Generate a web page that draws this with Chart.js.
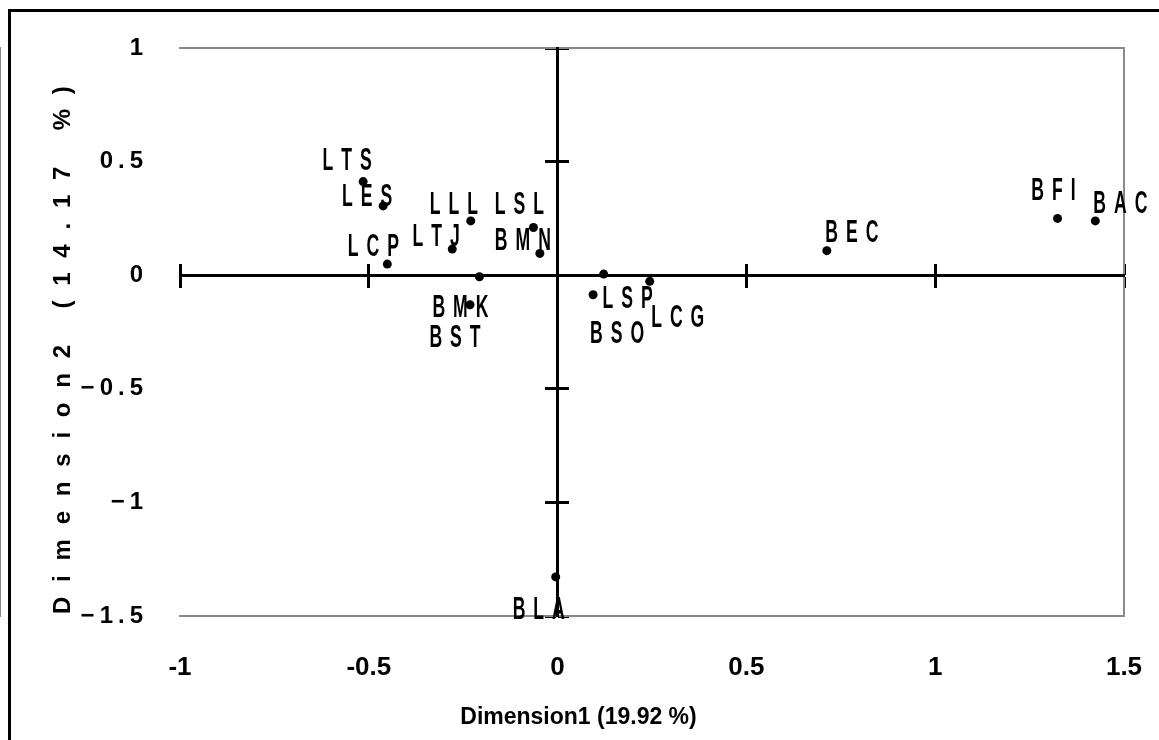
<!DOCTYPE html>
<html>
<head>
<meta charset="utf-8">
<script src="https://cdn.jsdelivr.net/npm/chart.js@4.4.1/dist/chart.umd.min.js"></script>
<style>
  html, body { margin: 0; padding: 0; background: #fff; overflow: hidden; }
  #wrap { position: relative; width: 1159px; height: 740px; overflow: hidden; }
  #frame { position: absolute; left: 8px; top: 9px; width: 1250px; height: 800px;
           border-left: 3px solid #000; border-top: 3px solid #000; }
  #c { position: absolute; left: 0; top: 0; }
</style>
</head>
<body>
<div id="wrap">
  <div id="frame"></div>
  <canvas id="c" width="1159" height="740"></canvas>
</div>
<script>
// Site codes and their coordinates on the first two dimensions
const codes = ['LTS', 'LES', 'LLL', 'LSL', 'LTJ', 'BMN', 'LCP', 'BMK', 'BST', 'LSP', 'LCG', 'BSO', 'BEC', 'BFI', 'BAC', 'BLA'];
const dim1  = [-0.515, -0.462, -0.230, -0.064, -0.279, -0.047, -0.451, -0.207, -0.232, 0.122, 0.244, 0.094, 0.713, 1.324, 1.424, -0.005];
const dim2  = [ 0.412,  0.305,  0.239,  0.210,  0.115,  0.096,  0.049, -0.007, -0.130, 0.005, -0.027, -0.086, 0.108, 0.250, 0.239, -1.328];

// Tick labels of both axes
const xTickValues = [-1, -0.5, 0, 0.5, 1, 1.5];
const xTickLabels = ['-1', '-0.5', '0', '0.5', '1', '1.5'];
const yTickValues = [-1.5, -1, -0.5, 0, 0.5, 1];
const yTickLabels = ['\u22121.5', '\u22121', '\u22120.5', '0', '0.5', '1'];

// Axis titles
const xTitle = 'Dimension1 (19.92 %)';
const yTitle = 'Dimension2 (14.17 %) ';

// Where each code is written, relative to its point (pixels)
const labelOffsets = [
  [-16, -20], [-16, -9], [-17, -16], [-14, -22], [-16, -12], [-17, -12], [-14, -17],
  [-19, 31], [-15, 33], [24, 25], [28, 37], [24, 39], [25, -17], [-4, -27], [25, -17], [-17, 33]
];

const FONT = '"Liberation Sans", Arial, sans-serif';
const GRAY = '#8a8a8a';
const X_SPACING = '0px';
const Y_SPACING = '5px';
const Y_TITLE_SPACING = '14.8px';
const SQUEEZE = 0.55;
const GAP = 8;

const label = (values, labels) => v => {
  const i = values.findIndex(t => Math.abs(t - v) < 1e-9);
  return i >= 0 ? labels[i] : '';
};

// Point codes, drawn condensed with a wide letter pitch
const codeLabels = {
  id: 'codeLabels',
  beforeDraw(chart) { chart.ctx.letterSpacing = X_SPACING; },
  afterDatasetsDraw(chart) {
    const ctx = chart.ctx;
    const meta = chart.getDatasetMeta(0);
    ctx.save();
    ctx.letterSpacing = '0px';
    ctx.font = 'bold 32px ' + FONT;
    ctx.fillStyle = '#000';
    ctx.textBaseline = 'middle';
    ctx.textAlign = 'left';
    meta.data.forEach((pt, i) => {
      const chars = [...codes[i]];
      const widths = chars.map(ch => ctx.measureText(ch).width * SQUEEZE);
      const total = widths.reduce((a, b) => a + b, 0) + GAP * (chars.length - 1);
      let x = pt.x + labelOffsets[i][0] - total / 2;
      const y = pt.y + labelOffsets[i][1];
      chars.forEach((ch, k) => {
        ctx.save();
        ctx.translate(x, y);
        ctx.scale(SQUEEZE, 1);
        ctx.fillText(ch, 0, 0);
        ctx.restore();
        x += widths[k] + GAP;
      });
    });
    ctx.restore();
    // the vertical axis labels and title are drawn after this point
    ctx.letterSpacing = Y_SPACING;
  },
  afterDraw(chart) { chart.ctx.letterSpacing = '0px'; }
};

// Vertical axis title gets its own wider spacing
const yTitleSpacing = {
  id: 'yTitleSpacing',
  afterLayout(chart) {
    const s = chart.scales.y;
    if (s._wrappedTitle) return;
    const orig = s.drawTitle.bind(s);
    s.drawTitle = function () {
      const ctx = chart.ctx;
      const prev = ctx.letterSpacing;
      ctx.letterSpacing = Y_TITLE_SPACING;
      orig();
      ctx.letterSpacing = prev;
    };
    s._wrappedTitle = true;
  }
};

const centerAxis = (axis, posKey, min, max, len, showBorder) => ({
  type: 'linear', axis, position: { [posKey]: 0 }, min, max,
  ticks: { display: false, stepSize: 0.5 },
  grid: { drawOnChartArea: false, drawTicks: true, tickLength: len, tickColor: '#000', tickWidth: 3 },
  border: { display: showBorder, color: '#000', width: 3 }
});

new Chart(document.getElementById('c'), {
  type: 'scatter',
  data: {
    datasets: [{
      data: dim1.map((x, i) => ({ x, y: dim2[i] })),
      backgroundColor: '#000',
      borderWidth: 0,
      pointRadius: 4.5,
      pointHoverRadius: 4.5,
      xAxisID: 'x',
      yAxisID: 'y'
    }]
  },
  options: {
    responsive: false,
    animation: false,
    events: [],
    layout: { padding: { left: 33, right: 35, top: 48, bottom: 8.2 } },
    plugins: {
      legend: { display: false },
      tooltip: { enabled: false },
      title: { display: false },
      subtitle: {
        display: true, position: 'bottom', fullSize: true, text: xTitle, color: '#000',
        font: { family: FONT, size: 23, weight: 'bold' }, padding: { top: 8.2, bottom: 0 }
      }
    },
    scales: {
      x: {
        type: 'linear', position: 'bottom', min: -1, max: 1.5,
        ticks: {
          stepSize: 0.5, padding: 36.4, color: '#000', maxRotation: 0,
          font: { family: FONT, size: 26, weight: 'bold' },
          callback: label(xTickValues, xTickLabels)
        },
        grid: { display: false, drawTicks: false },
        border: { display: true, color: GRAY, width: 2 },
        afterFit: s => { s.height = 80; s.paddingLeft = 0; s.paddingRight = 0; }
      },
      y: {
        type: 'linear', position: 'left', min: -1.5, max: 1,
        ticks: {
          stepSize: 0.5, padding: 32, color: '#000', z: 1,
          font: { family: FONT, size: 24, weight: 'bold' },
          callback: label(yTickValues, yTickLabels)
        },
        grid: { display: false, drawTicks: false, z: 1 },
        border: { display: true, color: GRAY, width: 2 },
        title: {
          display: true, text: yTitle, color: '#000',
          font: { family: FONT, size: 24, weight: 'bold' }, padding: { top: 16, bottom: 0 }
        },
        afterFit: s => { s.width = 147; s.paddingTop = 0; s.paddingBottom = 0; }
      },
      xTop: {
        type: 'linear', axis: 'x', position: 'top', min: -1, max: 1.5,
        ticks: { display: false }, grid: { display: false, drawTicks: false },
        border: { display: true, color: GRAY, width: 2 }
      },
      yRight: {
        type: 'linear', axis: 'y', position: 'right', min: -1.5, max: 1,
        ticks: { display: false }, grid: { display: false, drawTicks: false },
        border: { display: true, color: GRAY, width: 2 }
      },
      xZero: centerAxis('x', 'y', -1, 1.5, 11, true),
      xZeroUp: centerAxis('x', 'y', -1, 1.5, -11, false),
      yZero: centerAxis('y', 'x', -1.5, 1, 11, true),
      yZeroRight: centerAxis('y', 'x', -1.5, 1, -11, false)
    }
  },
  plugins: [codeLabels, yTitleSpacing]
});
</script>
</body>
</html>
